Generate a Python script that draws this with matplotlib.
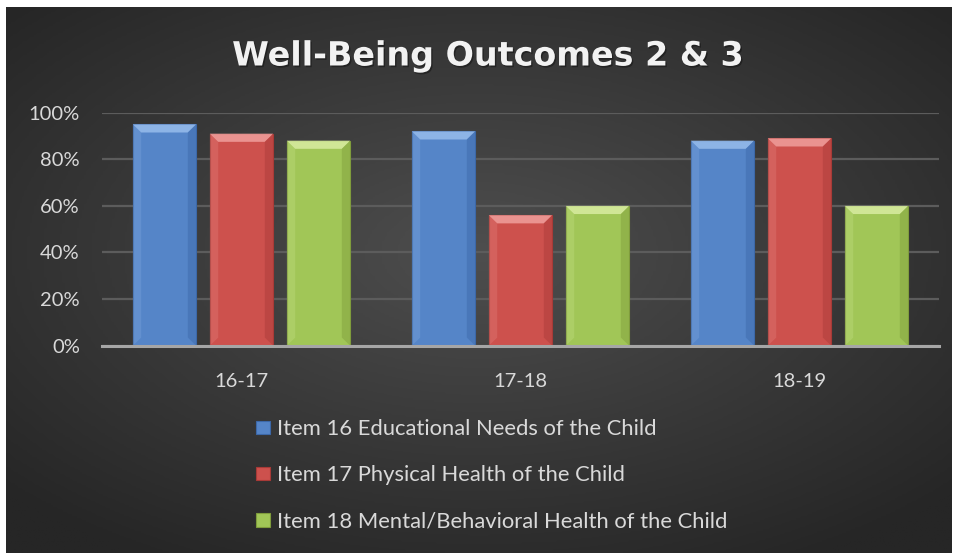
import numpy as np
import matplotlib
matplotlib.use("Agg")
import matplotlib.pyplot as plt
import matplotlib.patheffects as pe
from matplotlib.patches import Polygon, Patch
from matplotlib.colors import LinearSegmentedColormap

# データ
categories = ["16-17", "17-18", "18-19"]
series = [
    "Item 16 Educational Needs of the Child",
    "Item 17 Physical Health of the Child",
    "Item 18 Mental/Behavioral Health of the Child",
]
item16 = [0.95, 0.92, 0.88]
item17 = [0.91, 0.56, 0.89]
item18 = [0.88, 0.60, 0.60]
values = [item16, item17, item18]
yticks = [0, 0.2, 0.4, 0.6, 0.8, 1.0]
ytick_labels = ["0%", "20%", "40%", "60%", "80%", "100%"]

# 色 (基本, 明, 暗)
colors = [
    ("#5585c8", "#9cc0ee", "#3c68a8"),
    ("#cd514d", "#f2a5a2", "#a83a37"),
    ("#a1c657", "#dcefa6", "#7f9c3c"),
]

fig = plt.figure(figsize=(9.54, 5.55), dpi=100)
fig.patch.set_facecolor("white")

# 背景 (放射グラデーション)
bg = fig.add_axes([6 / 954, 2 / 555, 946 / 954, 546 / 555])
bg.set_axis_off()
gx, gy = np.meshgrid(np.linspace(-1, 1, 400), np.linspace(-1, 1, 250))
r = np.sqrt((gx * 0.95) ** 2 + ((gy + 0.1) * 1.0) ** 2)
bg_cmap = LinearSegmentedColormap.from_list("bg", ["#4e4e4e", "#3a3a3a", "#262626"])
bg.imshow(r, cmap=bg_cmap, aspect="auto", extent=[0, 1, 0, 1], vmin=0, vmax=1.3)

ax = fig.add_axes([102 / 954, (555 - 345.7) / 555, 837 / 954, 233 / 555])
ax.set_facecolor("none")

x = np.arange(len(categories))
bw = 0.227
step = 0.276
for i, vals in enumerate(values):
    base, light, dark = colors[i]
    bars = ax.bar(x + (i - 1) * step, vals, width=bw, color=base,
                  edgecolor=dark, linewidth=0.8, zorder=3)
    for p in bars:
        x0, y0 = p.get_x(), p.get_y()
        w, h = p.get_width(), p.get_height()
        dx, dy = 0.03, 0.035
        # 上部の面取り
        ax.add_patch(Polygon([(x0, y0 + h), (x0 + w, y0 + h),
                              (x0 + w - dx, y0 + h - dy), (x0 + dx, y0 + h - dy)],
                             closed=True, facecolor=light, edgecolor="none",
                             alpha=0.8, zorder=4))
        # 左右の面取り
        ax.add_patch(Polygon([(x0, y0), (x0, y0 + h), (x0 + dx, y0 + h - dy),
                              (x0 + dx, y0 + dy)], closed=True, facecolor=light,
                             edgecolor="none", alpha=0.2, zorder=4))
        ax.add_patch(Polygon([(x0 + w, y0), (x0 + w, y0 + h),
                              (x0 + w - dx, y0 + h - dy), (x0 + w - dx, y0 + dy)],
                             closed=True, facecolor=dark, edgecolor="none",
                             alpha=0.45, zorder=4))

ax.set_xlim(-0.5, len(categories) - 0.5)
ax.set_ylim(0, 1.0)
ax.set_yticks(yticks)
ax.set_yticklabels(ytick_labels)
ax.set_xticks(x)
ax.set_xticklabels(categories)
ax.grid(axis="y", color="#5c5c5c", linewidth=1.6, zorder=0)
ax.set_axisbelow(True)
for s in ["top", "right", "left"]:
    ax.spines[s].set_visible(False)
ax.spines["bottom"].set_color("#a6a6a6")
ax.spines["bottom"].set_linewidth(2.2)
ax.spines["bottom"].set_zorder(5)
ax.tick_params(axis="both", length=0, colors="#d9d9d9", labelsize=14.5)
ax.tick_params(axis="x", pad=20)
ax.tick_params(axis="y", pad=16)
for t in ax.get_xticklabels() + ax.get_yticklabels():
    t.set_family("Lato")

# タイトル
fig.text(488 / 954, 1 - 56 / 555, "Well-Being Outcomes 2 & 3", ha="center",
         va="center", fontsize=24, fontweight="bold", family="DejaVu Sans",
         color="#f2f2f2",
         path_effects=[pe.withSimplePatchShadow(offset=(1, -1.2),
                                                shadow_rgbFace="black", alpha=0.35)])

# 凡例
handles = [Patch(facecolor=c[0], edgecolor=c[2], linewidth=0.8) for c in colors]
leg = fig.legend(handles, series, loc="upper left",
                 bbox_to_anchor=(256 / 954, 1 - 419 / 555), frameon=False,
                 prop={"family": "Lato", "size": 15.8}, labelcolor="#d9d9d9",
                 handlelength=0.65, handleheight=0.55, handletextpad=0.3,
                 labelspacing=1.2, borderpad=0, borderaxespad=0)

fig.savefig("out.png", dpi=100, facecolor=fig.get_facecolor())
